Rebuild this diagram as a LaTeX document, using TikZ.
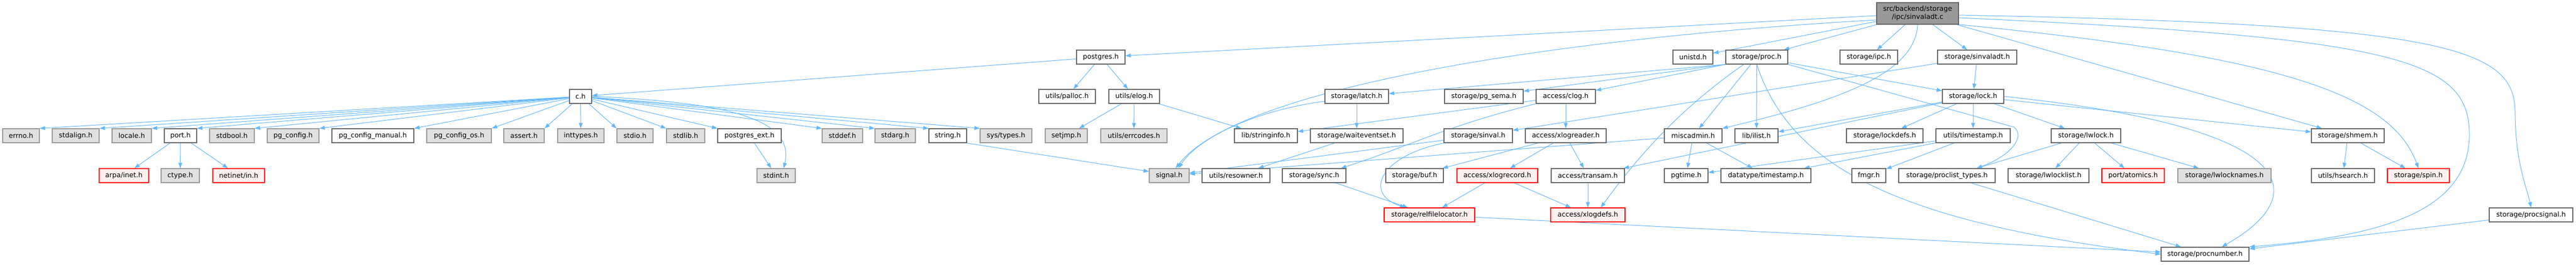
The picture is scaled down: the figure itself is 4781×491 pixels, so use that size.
\documentclass[tikz,border=0pt]{standalone}
\usepackage{fontspec}
\setmainfont{DejaVu Sans}
\usetikzlibrary{arrows.meta,calc}
\pgfdeclarelayer{bg}
\pgfsetlayers{bg,main}
\definecolor{edgec}{HTML}{63B8FF}
\definecolor{bordw}{HTML}{666666}
\definecolor{bordg}{HTML}{999999}
\definecolor{fillg}{HTML}{E0E0E0}
\definecolor{fillr}{HTML}{FFF0F0}
\definecolor{fillm}{HTML}{999999}
\newcommand{\nd}[6]{\node[#5, minimum width={(#3-#2)*1pt}] (#1) at ({(#2+#3)/2},{-#4}) {#6};}
\begin{document}
\begin{tikzpicture}[x=1pt,y=1pt,
  box/.style={draw, rectangle, inner sep=0pt, minimum height=26pt, line width=1.3pt,
    font=\fontsize{12.6}{15}\selectfont},
  wnode/.style={box, draw=bordw, fill=white},
  gnode/.style={box, draw=bordg, fill=fillg},
  rnode/.style={box, draw=red, fill=fillr},
  mnode/.style={box, draw=bordw, fill=fillm, minimum height=40pt, align=center},
  edge/.style={draw=edgec, line width=1pt, -{Triangle[length=10pt,width=7pt]}}]
\useasboundingbox (0,0) rectangle (4781,-491);
% row 0
\nd{main}{3483}{3635}{25}{mnode}{src/backend/storage\\/ipc/sinvaladt.c}
% row 1
\nd{postgres}{1998}{2088}{106}{wnode}{postgres.h}
\nd{unistd}{3105}{3179}{106}{wnode}{unistd.h}
\nd{proc}{3203}{3318}{106}{wnode}{storage/proc.h}
\nd{ipc}{3415}{3522}{106}{wnode}{storage/ipc.h}
\nd{sinvaladth}{3596}{3743}{106}{wnode}{storage/sinvaladt.h}
% row 2
\nd{ch}{1057}{1098}{179}{wnode}{c.h}
\nd{palloc}{1928}{2033}{179}{wnode}{utils/palloc.h}
\nd{elog}{2058}{2152}{179}{wnode}{utils/elog.h}
\nd{latch}{2459}{2577}{179}{wnode}{storage/latch.h}
\nd{pgsema}{2681}{2827}{179}{wnode}{storage/pg\_sema.h}
\nd{clog}{2851}{2961}{179}{wnode}{access/clog.h}
\nd{lock}{3605}{3719}{179}{wnode}{storage/lock.h}
% row 3
\nd{errno}{5}{73}{252}{gnode}{errno.h}
\nd{stdalign}{97}{184}{252}{gnode}{stdalign.h}
\nd{locale}{208}{281}{252}{gnode}{locale.h}
\nd{port}{305}{365}{252}{wnode}{port.h}
\nd{stdbool}{389}{472}{252}{gnode}{stdbool.h}
\nd{pgconfig}{496}{592}{252}{gnode}{pg\_config.h}
\nd{pgconfigmanual}{616}{768}{252}{wnode}{pg\_config\_manual.h}
\nd{pgconfigos}{792}{912}{252}{gnode}{pg\_config\_os.h}
\nd{assert}{935}{1010}{252}{gnode}{assert.h}
\nd{inttypes}{1035}{1121}{252}{gnode}{inttypes.h}
\nd{stdio}{1145}{1212}{252}{gnode}{stdio.h}
\nd{stdlib}{1237}{1308}{252}{gnode}{stdlib.h}
\nd{postgresext}{1332}{1450}{252}{wnode}{postgres\_ext.h}
\nd{stddef}{1526}{1601}{252}{gnode}{stddef.h}
\nd{stdarg}{1624}{1699}{252}{gnode}{stdarg.h}
\nd{string}{1724}{1794}{252}{wnode}{string.h}
\nd{systypes}{1819}{1915}{252}{gnode}{sys/types.h}
\nd{setjmp}{1940}{2018}{252}{gnode}{setjmp.h}
\nd{errcodes}{2043}{2166}{252}{gnode}{utils/errcodes.h}
\nd{stringinfo}{2291}{2408}{252}{wnode}{lib/stringinfo.h}
\nd{waiteventset}{2432}{2604}{252}{wnode}{storage/waiteventset.h}
\nd{sinval}{2680}{2807}{252}{wnode}{storage/sinval.h}
\nd{xlogreader}{2831}{2981}{252}{wnode}{access/xlogreader.h}
\nd{miscadmin}{3089}{3196}{252}{wnode}{miscadmin.h}
\nd{ilist}{3220}{3300}{252}{wnode}{lib/ilist.h}
\nd{lockdefs}{3427}{3569}{252}{wnode}{storage/lockdefs.h}
\nd{timestamp}{3593}{3731}{252}{wnode}{utils/timestamp.h}
\nd{lwlock}{3807}{3936}{252}{wnode}{storage/lwlock.h}
\nd{shmem}{4290}{4425}{252}{wnode}{storage/shmem.h}
% row 4
\nd{arpainet}{184}{276}{326}{rnode}{arpa/inet.h}
\nd{ctype}{299}{370}{326}{gnode}{ctype.h}
\nd{netinet}{395}{491}{326}{rnode}{netinet/in.h}
\nd{stdint}{1405}{1476}{326}{gnode}{stdint.h}
\nd{signal}{2133}{2207}{326}{gnode}{signal.h}
\nd{resowner}{2231}{2357}{326}{wnode}{utils/resowner.h}
\nd{sync}{2380}{2498}{326}{wnode}{storage/sync.h}
\nd{buf}{2572}{2679}{326}{wnode}{storage/buf.h}
\nd{xlogrecord}{2704}{2854}{326}{rnode}{access/xlogrecord.h}
\nd{transam}{2879}{3015}{326}{wnode}{access/transam.h}
\nd{pgtime}{3089}{3170}{326}{wnode}{pgtime.h}
\nd{dtimestamp}{3194}{3361}{326}{wnode}{datatype/timestamp.h}
\nd{fmgr}{3437}{3500}{326}{wnode}{fmgr.h}
\nd{proclisttypes}{3524}{3703}{326}{wnode}{storage/proclist\_types.h}
\nd{lwlocklist}{3727}{3877}{326}{wnode}{storage/lwlocklist.h}
\nd{atomics}{3901}{4017}{326}{rnode}{port/atomics.h}
\nd{lwlocknames}{4042}{4215}{326}{gnode}{storage/lwlocknames.h}
\nd{hsearch}{4290}{4407}{326}{wnode}{utils/hsearch.h}
\nd{spin}{4431}{4546}{326}{rnode}{storage/spin.h}
% row 5
\nd{relfilelocator}{2569}{2737}{399}{rnode}{storage/relfilelocator.h}
\nd{xlogdefs}{2878}{3016}{399}{rnode}{access/xlogdefs.h}
\nd{procsignal}{4620}{4775}{399}{wnode}{storage/procsignal.h}
% row 6
\nd{procnumber}{4011}{4174}{472}{wnode}{storage/procnumber.h}

\begin{pgfonlayer}{bg}
\fill[white] (0,0) rectangle (4781,-491);
% main file
\draw[edge] (main) -- (postgres);
\draw[edge] ($(main.west)+(0,-12)$) .. controls (2900,-70) and (2300,-160) .. ($(signal.north)+(12,0)$);
\draw[edge] (main) -- (unistd);
\draw[edge] (main) -- (proc);
\draw[edge] (main) -- (ipc);
\draw[edge] (main) -- (sinvaladth);
\draw[edge] (main.south) .. controls (3555,-140) and (3400,-190) .. (miscadmin.north east);
\draw[edge] (main) -- (shmem);
\draw[edge] (main.south east) .. controls (4250,-105) and (4440,-180) .. (spin.north);
\draw[edge] ($(main.east)+(0,-8)$) .. controls (4450,-70) and (4583,-110) .. (4583,-250)
  .. controls (4583,-400) and (4400,-440) .. (procnumber.north east);
\draw[edge] ($(main.east)+(0,-3)$) .. controls (4550,-45) and (4668,-90) .. (4668,-210)
  .. controls (4668,-300) and (4690,-350) .. (procsignal.north);
% postgres.h
\draw[edge] (postgres) -- (ch);
\draw[edge] (postgres) -- (palloc);
\draw[edge] (postgres) -- (elog);
% c.h
\foreach \t in {errno,stdalign,locale,port,stdbool,pgconfig,pgconfigmanual,pgconfigos,assert}
  \draw[edge] (ch) -- (\t.north east);
\draw[edge] (ch) -- (inttypes);
\foreach \t in {stdio,stdlib,postgresext,stddef,stdarg,string,systypes}
  \draw[edge] (ch) -- (\t.north west);
\draw[edge] (ch.east) .. controls (1350,-190) and (1475,-220) .. ($(stdint.north east)+(-22,0)$);
% port.h
\draw[edge] (port) -- (arpainet);
\draw[edge] (port) -- (ctype);
\draw[edge] (port) -- (netinet);
\draw[edge] (postgresext) -- (stdint);
\draw[edge] (string.south east) -- ($(signal.north west)+(0,-6)$);
% elog
\draw[edge] (elog) -- (setjmp);
\draw[edge] (elog) -- (errcodes);
\draw[edge] (elog) -- (stringinfo);
% latch
\draw[edge] (latch) -- (waiteventset);
\draw[edge] ($(latch.west)+(0,-9)$) .. controls (2330,-205) and (2225,-255) .. ($(signal.north)+(17,0)$);
\draw[edge] (waiteventset) -- (resowner);
% sinval
\draw[edge] (sinval) -- (signal);
\draw[edge] (sinval.south west) .. controls (2560,-290) and (2530,-360) .. ($(relfilelocator.north west)+(40,0)$);
% miscadmin
\draw[edge] (miscadmin) -- (signal);
\draw[edge] (miscadmin) -- (pgtime);
\draw[edge] (miscadmin) -- (dtimestamp);
% clog
\draw[edge] (clog) -- (xlogreader);
\draw[edge] (clog) -- (stringinfo);
\draw[edge] (clog.south west) .. controls (2680,-235) and (2620,-270) .. ($(sync.north east)+(-10,0)$);
% xlogreader etc.
\draw[edge] (xlogreader) -- (buf);
\draw[edge] (xlogreader) -- (xlogrecord);
\draw[edge] (xlogreader) -- (transam);
\draw[edge] (xlogrecord) -- (relfilelocator);
\draw[edge] (xlogrecord) -- (xlogdefs);
\draw[edge] (transam) -- (xlogdefs);
\draw[edge] (sync) -- (relfilelocator);
\draw[edge] (relfilelocator) -- (procnumber);
% proc.h
\draw[edge] (proc.south west) -- (latch);
\draw[edge] (proc.south west) -- (pgsema);
\draw[edge] (proc.south west) -- (clog);
\draw[edge] ($(proc.south west)+(34,0)$) .. controls (3120,-200) and (3040,-290) .. ($(xlogdefs.north)+(24,0)$);
\draw[edge] (proc) -- (miscadmin);
\draw[edge] (proc) -- (ilist);
\draw[edge] (proc) -- (lock);
\draw[edge] (proc.south east) -- (3738,-236) .. controls (3760,-255) and (3730,-290) .. ($(proclisttypes.north)+(55,0)$);
\draw[edge] (proc.south) .. controls (3320,-300) and (3500,-410) .. (procnumber.west);
% sinvaladt.h
\draw[edge] (sinvaladth) -- (sinval);
\draw[edge] (sinvaladth) -- (lock);
% lock.h
\draw[edge] (lock) -- (ilist);
\draw[edge] (lock) -- (lockdefs);
\draw[edge] (lock) -- (timestamp);
\draw[edge] (lock) -- (lwlock);
\draw[edge] (lock) -- (shmem);
\draw[edge] (lock) -- (transam);
\draw[edge] (lock.east) .. controls (4300,-240) and (4280,-370) .. ($(procnumber.north)+(31,0)$);
% timestamp
\draw[edge] (timestamp) -- (dtimestamp);
\draw[edge] (timestamp) -- (fmgr);
\draw[edge] (timestamp) -- (pgtime);
% lwlock
\draw[edge] (lwlock) -- ($(proclisttypes.north)+(55,0)$);
\draw[edge] (lwlock) -- (lwlocklist);
\draw[edge] (lwlock) -- (atomics);
\draw[edge] (lwlock) -- (lwlocknames);
% shmem
\draw[edge] (shmem) -- (hsearch);
\draw[edge] (shmem) -- (spin);
\draw[edge] (proclisttypes) -- (procnumber);
\draw[edge] (procsignal) -- (procnumber);
\end{pgfonlayer}
\end{tikzpicture}
\end{document}
